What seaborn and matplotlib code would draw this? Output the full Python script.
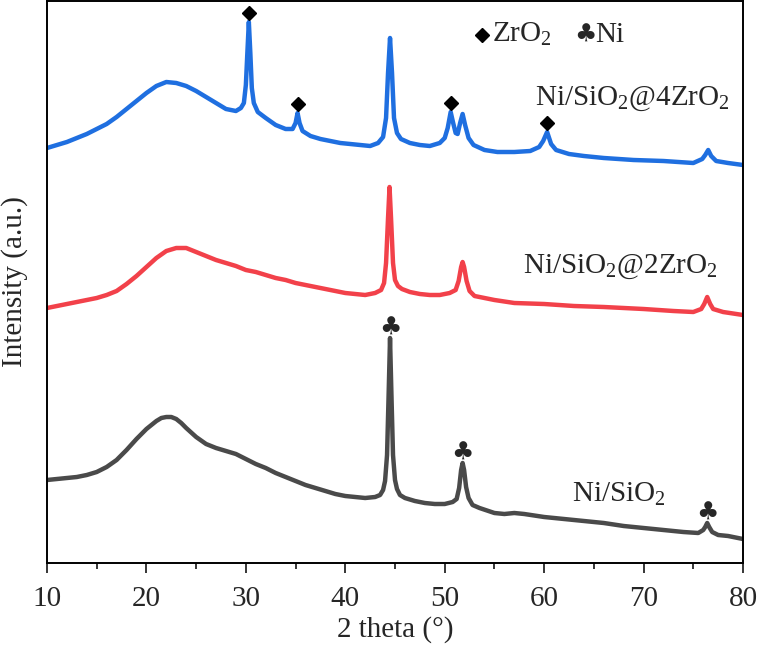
import matplotlib
matplotlib.use("Agg")
import matplotlib.pyplot as plt
import seaborn as sns
import numpy as np
import pandas as pd

# stacked XRD patterns, intensity in arbitrary units (already offset)
two_theta_ni = [10, 11, 12, 13, 14, 15, 16, 17, 18, 19, 20, 21, 21.5, 22, 22.5, 23, 23.5, 24,
                25, 26, 27, 28, 29, 30, 31, 32, 33, 34, 35, 36, 37, 38, 39, 40, 41, 42, 43,
                43.5, 43.8, 44.0, 44.2, 44.35, 44.5, 44.65, 44.8, 45.0, 45.2, 45.5, 46, 47,
                48, 49, 50, 50.8, 51.2, 51.45, 51.65, 51.8, 51.95, 52.15, 52.4, 52.8, 53.5,
                55, 56, 57, 58, 60, 62, 64, 66, 68, 70, 72, 74, 75.5, 76, 76.2, 76.4, 76.6,
                76.9, 77.5, 78.5, 80]
int_ni = [83, 84, 85, 86, 88, 91, 96, 103, 113, 124, 134, 142, 145, 146, 146, 144, 140, 135,
          126, 119, 115, 112, 109, 104, 99, 95, 90, 86, 82, 78, 75, 72, 69, 67, 66, 65, 66,
          68, 73, 82, 108, 165, 225, 165, 108, 83, 74, 68, 65, 62,
          60, 59, 59, 61, 64, 75, 93, 100, 93, 76, 65, 58, 55,
          50, 49, 50, 49, 46, 44, 42, 40, 37, 35, 33, 31, 30, 33, 36, 40, 36,
          31, 28, 27, 24]

two_theta_2zr = [10, 11, 12, 13, 14, 15, 16, 17, 18, 19, 20, 21, 22, 23, 24, 25, 26, 27, 28,
                 29, 30, 31, 32, 33, 34, 35, 36, 37, 38, 39, 40, 41, 42, 43, 43.6, 43.9, 44.1,
                 44.3, 44.45, 44.6, 44.8, 45.0, 45.3, 45.7, 46.5, 47.5, 48.5, 49.5, 50.5,
                 51.1, 51.4, 51.65, 51.8, 51.95, 52.2, 52.5, 53, 54, 55, 57, 60, 63, 66, 70,
                 73, 75, 75.8, 76.1, 76.4, 76.7, 77, 78, 80]
int_2zr = [255, 257, 259, 261, 263, 265, 268, 272, 279, 287, 296, 305, 312, 315, 315, 311,
           307, 303, 300, 297, 293, 291, 288, 285, 283, 280, 278, 276, 274, 272, 270, 269,
           268, 270, 273, 280, 300, 345, 376, 345, 300, 283, 277, 274, 271, 269, 268, 268,
           270, 273, 282, 296, 301, 296, 282, 272, 267, 265, 263, 260, 259, 257, 256, 254,
           252, 251, 254, 259, 266, 259, 254, 251, 248]

two_theta_4zr = [10, 11, 12, 13, 14, 15, 16, 17, 18, 19, 20, 21, 22, 23, 24, 25, 26, 27, 28,
                 29, 29.5, 29.8, 30.0, 30.15, 30.3, 30.45, 30.6, 30.8, 31.2, 32, 33, 34, 34.7,
                 35.0, 35.2, 35.4, 35.7, 36.5, 37.5, 38.5, 39.5, 40.5, 41.5, 42.5, 43.3, 43.8,
                 44.1, 44.3, 44.5, 44.7, 44.9, 45.2, 45.6, 46.5, 47.5, 48.5, 49.5, 50.0, 50.3,
                 50.6, 50.85, 51.1, 51.3, 51.55, 51.8, 52.05, 52.4, 52.9, 54, 55.3, 57, 58.6,
                 59.5, 59.9, 60.3, 60.7, 61.2, 62.5, 64, 66, 69, 72, 75, 75.9, 76.2, 76.5,
                 76.8, 77.3, 78.5, 80]
int_4zr = [415, 418, 421, 425, 429, 434, 439, 446, 454, 462, 470, 477, 481, 480, 477, 472,
           466, 460, 454, 452, 455, 460, 478, 510, 541, 510, 475, 460, 451, 445, 438, 434,
           434, 440, 450, 440, 432, 427, 424, 422, 420, 419, 418, 417, 420, 426,
           445, 490, 525, 490, 445, 430, 424, 420, 418, 417, 420, 425, 435,
           451, 440, 430, 429, 440, 449, 438, 425, 418, 413, 411, 411, 412,
           416, 422, 431, 419, 413, 409, 407, 405, 403, 402, 400, 404, 408, 413,
           407, 402, 400, 398]

sample_labels = ["Ni/SiO$_2$", "Ni/SiO$_2$@2ZrO$_2$", "Ni/SiO$_2$@4ZrO$_2$"]
colors = ["#4a4a4a", "#f2414a", "#1f6fe0"]

zro2_peaks = [30.3, 35.2, 50.6, 60.3]   # marked on the 4ZrO2 pattern
ni_peaks = [44.5, 51.8, 76.4]           # marked on the Ni/SiO2 pattern

df = pd.concat([
    pd.DataFrame({"two_theta": two_theta_ni, "intensity": int_ni, "sample": sample_labels[0]}),
    pd.DataFrame({"two_theta": two_theta_2zr, "intensity": int_2zr, "sample": sample_labels[1]}),
    pd.DataFrame({"two_theta": two_theta_4zr, "intensity": int_4zr, "sample": sample_labels[2]}),
])

sns.set_style("ticks")
plt.rcParams["font.family"] = ["Liberation Serif", "DejaVu Sans"]
plt.rcParams["mathtext.fontset"] = "custom"
plt.rcParams["mathtext.rm"] = "Liberation Serif"
plt.rcParams["mathtext.it"] = "Liberation Serif:italic"

fig = plt.figure(figsize=(7.57, 6.45), dpi=100)
ax = fig.add_axes([47 / 757, 82 / 645, 696 / 757, 562 / 645])

sns.lineplot(data=df, x="two_theta", y="intensity", hue="sample", palette=colors,
             hue_order=sample_labels, estimator=None, sort=False, lw=3.2, legend=False, ax=ax)


def peak_top(xs, ys, pos):
    xs = np.asarray(xs)
    ys = np.asarray(ys)
    m = np.abs(xs - pos) < 0.35
    return ys[m].max()


for p in zro2_peaks:
    ax.plot(p, peak_top(two_theta_4zr, int_4zr, p) + 9, "D", color="black", ms=7.5)
for p in ni_peaks:
    ax.text(p, peak_top(two_theta_ni, int_ni, p) + 10, "\u2663", family="DejaVu Sans",
            fontsize=18, ha="center", va="center")

# legend of phases
ax.plot(53.75, 528, "D", color="black", ms=7.5)
ax.text(54.8, 521, "ZrO$_2$", fontsize=21, va="baseline", ha="left")
ax.text(64.1, 528, "\u2663", family="DejaVu Sans", fontsize=18, ha="center", va="center")
ax.text(65.1, 521, "Ni", fontsize=21, va="baseline", ha="left")

# sample names
ax.text(59.1, 458, sample_labels[2], fontsize=21, va="baseline", ha="left")
ax.text(57.9, 290, sample_labels[1], fontsize=21, va="baseline", ha="left")
ax.text(62.8, 61, sample_labels[0], fontsize=21, va="baseline", ha="left")

ax.set_xlim(10, 80)
ax.set_ylim(0, 562)
ax.set_xticks(range(10, 81, 10))
ax.set_xticks(range(15, 80, 10), minor=True)
ax.set_yticks([])
ax.tick_params(axis="x", which="major", direction="out", length=7.5, width=1.3,
               labelsize=21, pad=9)
ax.tick_params(axis="x", which="minor", direction="out", length=4, width=1.3)
for s in ax.spines.values():
    s.set_linewidth(1.4)
    s.set_color("black")
ax.set_xlabel("2 theta (\u00b0)", fontsize=21, labelpad=3)
ax.set_ylabel("Intensity (a.u.)", fontsize=21, labelpad=14)

fig.savefig("out.png", dpi=100)
